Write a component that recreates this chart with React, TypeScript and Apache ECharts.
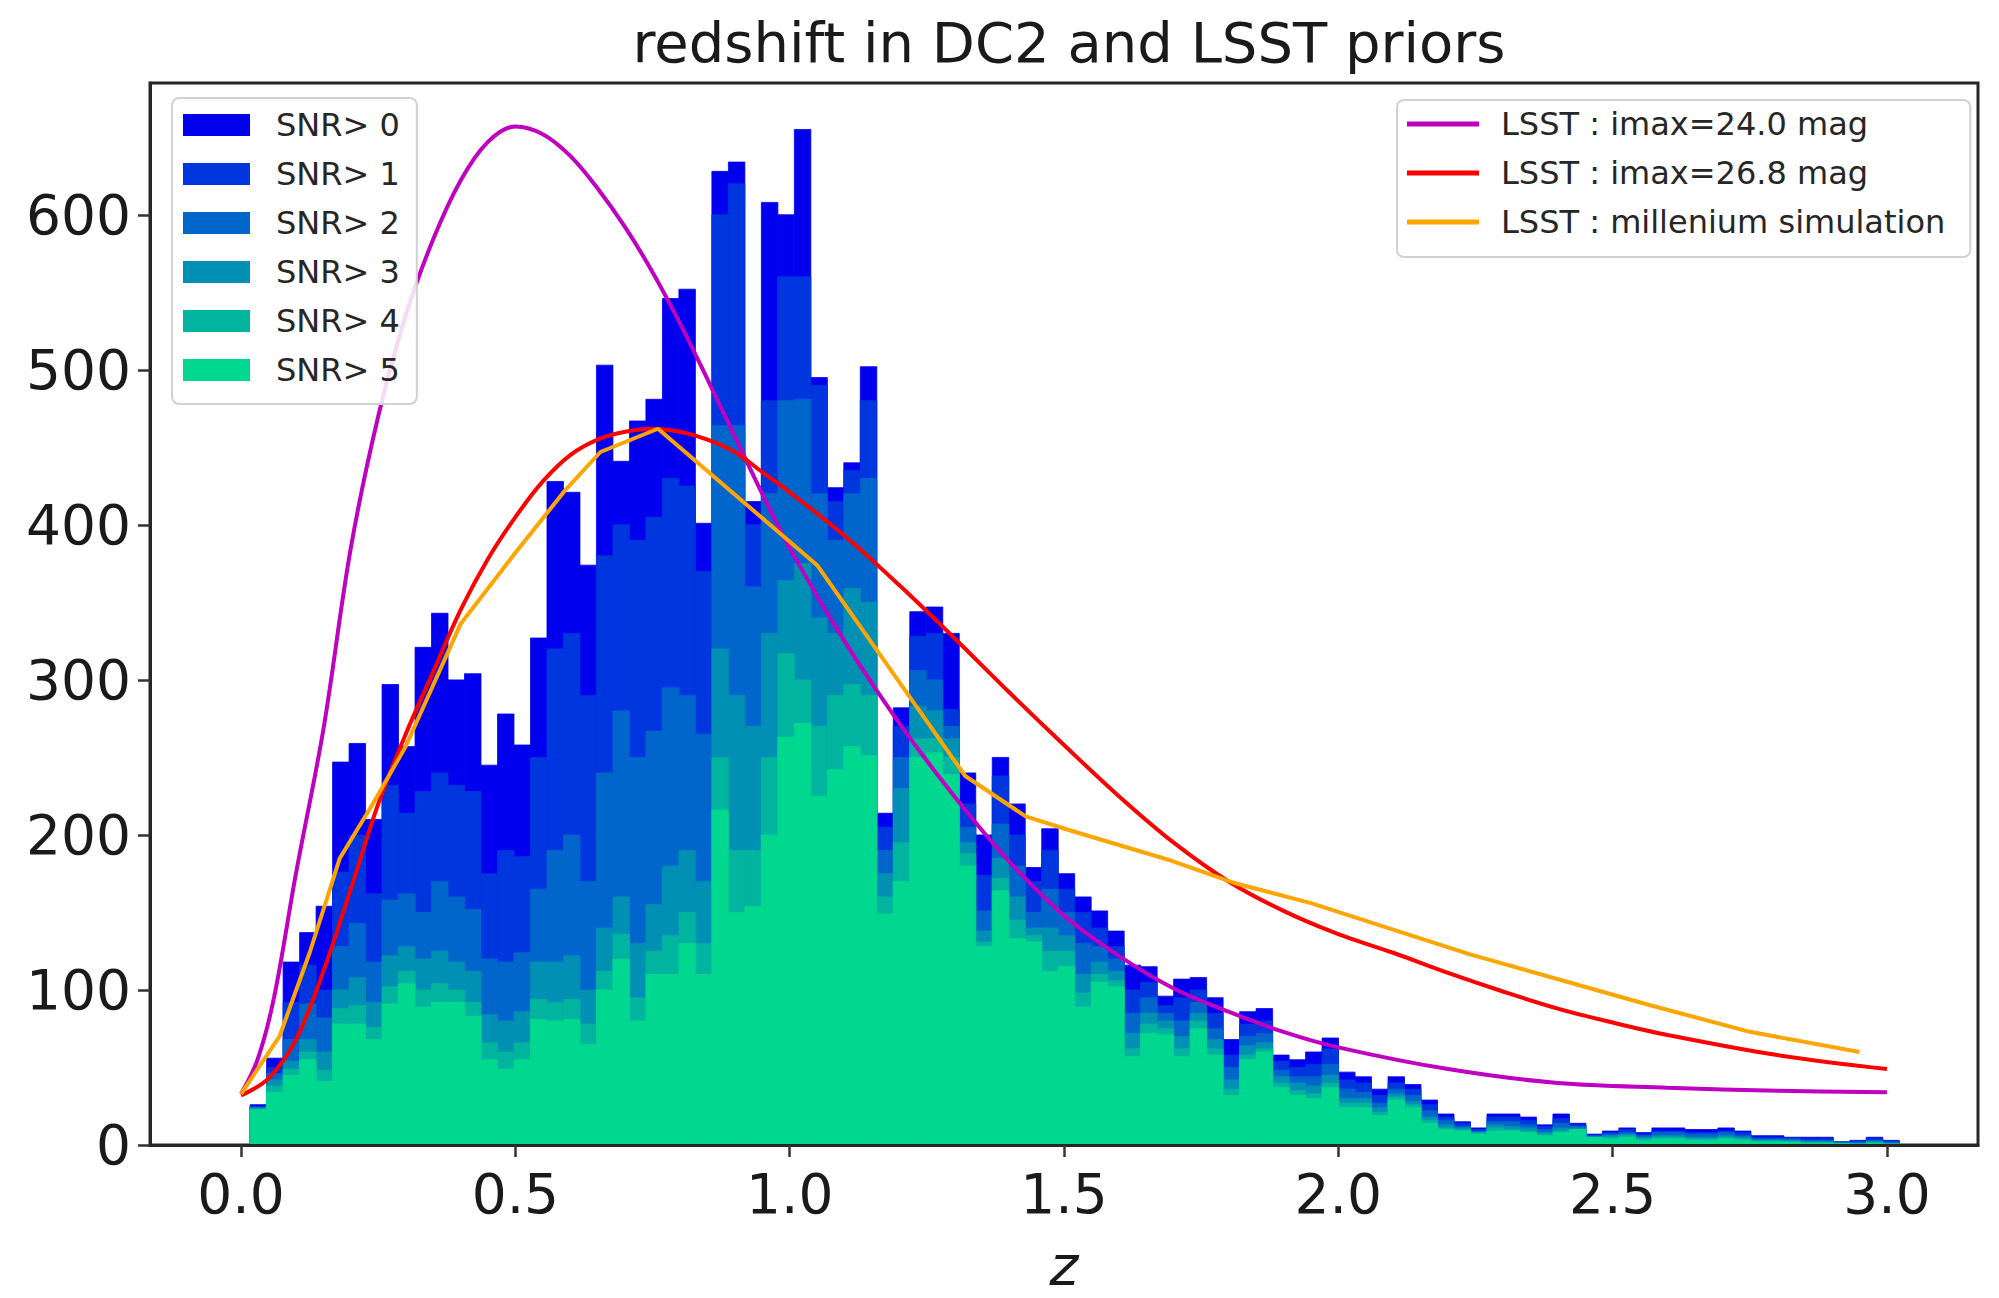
import React, { useEffect, useRef } from "react";
import * as echarts from "echarts";

const FONT = '"DejaVu Sans", "Liberation Sans", sans-serif';
const INK = "#1a1a1a";

const TITLE = "redshift in DC2 and LSST priors";
const X_NAME = "z";

// histogram binning in redshift
const BIN_START = 0.0165;
const BIN_WIDTH = 0.03006;

const SNR_NAMES = ["SNR> 0", "SNR> 1", "SNR> 2", "SNR> 3", "SNR> 4", "SNR> 5"];
const SNR_COLORS = ["#0000ee", "#0036de", "#0066cc", "#0090b4", "#00b4a0", "#00d890"];

// counts per bin, one array per signal-to-noise cut
const SNR0 = [
  26, 56, 118, 137, 154, 247, 259, 210, 297, 257,
  321, 343, 300, 304, 245, 278, 258, 327, 428, 421,
  374, 503, 441, 467, 481, 546, 552, 401, 628, 634,
  415, 608, 600, 655, 495, 424, 440, 502, 214, 282,
  344, 347, 330, 240, 200, 250, 220, 179, 204, 175,
  160, 151, 138, 116, 115, 96, 107, 108, 95, 68,
  86, 88, 58, 55, 60, 69, 47, 44, 36, 44,
  39, 29, 20, 15, 11, 20, 20, 18, 13, 20,
  14, 7, 9, 11, 8, 11, 11, 10, 10, 11,
  9, 6, 6, 5, 5, 5, 2, 3, 5, 3,
];
const SNR1 = [
  25, 50, 92, 116, 100, 176, 200, 162, 232, 214,
  228, 240, 232, 228, 175, 190, 186, 250, 320, 330,
  290, 380, 400, 390, 405, 430, 425, 370, 600, 620,
  400, 480, 560, 560, 490, 415, 435, 480, 205, 270,
  328, 330, 281, 220, 174, 238, 200, 170, 190, 165,
  150, 140, 128, 100, 105, 90, 95, 100, 85, 58,
  78, 80, 54, 50, 52, 62, 42, 40, 32, 40,
  36, 26, 18, 14, 10, 18, 18, 16, 12, 17,
  13, 6, 8, 10, 7, 9, 9, 8, 8, 9,
  8, 5, 5, 4, 4, 4, 2, 2, 4, 2,
];
const SNR2 = [
  24, 46, 68, 91, 82, 128, 143, 118, 158, 162,
  150, 170, 160, 152, 120, 118, 124, 165, 190, 200,
  170, 240, 280, 250, 267, 295, 290, 265, 464, 464,
  360, 420, 480, 481, 420, 390, 420, 430, 190, 250,
  306, 300, 270, 205, 151, 207, 180, 150, 165, 150,
  130, 128, 120, 85, 95, 85, 80, 92, 75, 50,
  70, 72, 48, 44, 44, 52, 36, 34, 27, 36,
  32, 22, 16, 12, 9, 15, 15, 13, 10, 14,
  12, 6, 7, 8, 6, 8, 8, 7, 7, 8,
  6, 4, 4, 4, 3, 3, 2, 2, 3, 2,
];
const SNR3 = [
  24, 42, 54, 68, 60, 100, 108, 92, 122, 128,
  120, 125, 118, 112, 84, 80, 86, 118, 118, 122,
  100, 140, 160, 130, 155, 180, 190, 170, 320, 290,
  270, 330, 364, 375, 340, 330, 359, 350, 175, 230,
  283, 280, 262, 195, 138, 185, 160, 140, 140, 135,
  110, 118, 112, 72, 85, 80, 70, 85, 68, 42,
  64, 66, 44, 40, 38, 45, 30, 30, 24, 33,
  28, 18, 13, 11, 8, 13, 12, 11, 8, 11,
  11, 5, 6, 7, 5, 6, 6, 5, 5, 6,
  5, 3, 3, 3, 2, 2, 1, 1, 2, 1,
];
const SNR4 = [
  23, 38, 49, 60, 48, 88, 90, 76, 102, 112,
  100, 104, 100, 92, 66, 60, 66, 94, 92, 94,
  78, 112, 136, 95, 125, 135, 150, 130, 250, 190,
  190, 250, 317, 300, 270, 290, 297, 290, 160, 195,
  262, 262, 250, 188, 131, 172, 145, 135, 125, 125,
  98, 110, 106, 62, 78, 75, 62, 80, 62, 36,
  58, 62, 40, 35, 33, 40, 27, 27, 21, 31,
  26, 16, 11, 10, 8, 11, 10, 9, 7, 9,
  10, 5, 5, 6, 4, 5, 5, 4, 4, 5,
  4, 3, 3, 2, 2, 2, 1, 1, 2, 1,
];
const SNR5 = [
  23, 34, 45, 55, 41, 78, 78, 68, 91, 104,
  89, 92, 92, 83, 55, 49, 55, 81, 80, 81,
  65, 100, 120, 80, 110, 110, 130, 110, 216, 150,
  154, 200, 263, 272, 225, 242, 257, 251, 149, 170,
  250, 253, 239, 180, 128, 164, 133, 131, 112, 115,
  89, 105, 102, 57, 72, 71, 57, 75, 58, 32,
  55, 60, 37, 32, 30, 37, 24, 24, 19, 29,
  24, 14, 10, 9, 7, 9, 9, 8, 6, 8,
  10, 5, 4, 5, 3, 4, 4, 3, 3, 4,
  3, 2, 2, 2, 1, 1, 1, 0, 1, 0,
];
const SNR_COUNTS = [SNR0, SNR1, SNR2, SNR3, SNR4, SNR5];

// prior curves
const LINE_NAMES = ["LSST : imax=24.0 mag", "LSST : imax=26.8 mag", "LSST : millenium simulation"];
const LINE_COLORS = ["#c000c0", "#ff0000", "#ffa500"];

const PRIOR24_Z = [0, 0.03, 0.06, 0.1, 0.15, 0.2, 0.25, 0.3, 0.35, 0.4, 0.45, 0.5, 0.55, 0.6, 0.65, 0.7, 0.75, 0.8, 0.85, 0.9, 0.95, 1.0, 1.1, 1.2, 1.3, 1.4, 1.5, 1.6, 1.7, 1.8, 1.9, 2.0, 2.2, 2.4, 2.6, 2.8, 3.0];
const PRIOR24_N = [33, 55, 95, 175, 268, 385, 470, 535, 584, 622, 647, 657, 652, 638, 617, 592, 563, 530, 494, 457, 420, 385, 325, 272, 225, 183, 148, 122, 101, 86, 73, 63, 49, 40, 37, 35, 34];

const PRIOR268_Z = [0, 0.05, 0.1, 0.15, 0.2, 0.25, 0.3, 0.35, 0.4, 0.45, 0.5, 0.55, 0.6, 0.65, 0.7, 0.75, 0.8, 0.85, 0.9, 0.95, 1.0, 1.1, 1.2, 1.3, 1.4, 1.5, 1.6, 1.7, 1.8, 1.9, 2.0, 2.1, 2.2, 2.3, 2.4, 2.5, 2.6, 2.8, 3.0];
const PRIOR268_N = [32, 43, 68, 112, 165, 220, 265, 305, 345, 378, 405, 428, 445, 455, 460, 462, 460, 455, 447, 434, 421, 393, 361, 327, 292, 258, 225, 195, 170, 151, 136, 124, 111, 99, 88, 79, 71, 58, 49];

const MILL_Z = [0, 0.07, 0.125, 0.18, 0.24, 0.3, 0.4, 0.5, 0.59, 0.655, 0.76, 1.05, 1.32, 1.43, 1.51, 1.69, 1.81, 1.95, 2.24, 2.57, 2.75, 2.95];
const MILL_N = [33, 70, 124, 185, 220, 257, 336, 382, 422, 447, 462, 374, 238, 212, 203, 184, 169, 156, 123, 90, 73, 60];

const X_TICKS = [0, 0.5, 1.0, 1.5, 2.0, 2.5, 3.0];
const Y_TICKS = [0, 100, 200, 300, 400, 500, 600];

function renderBin(params: any, api: any) {
  const x0 = api.value(0);
  const x1 = api.value(1);
  const h = api.value(2);
  const top = api.coord([x0, h]);
  const base = api.coord([x1, 0]);
  const color = api.visual("color");
  return {
    type: "rect",
    shape: { x: top[0], y: top[1], width: base[0] - top[0], height: base[1] - top[1] },
    style: { fill: color, stroke: color, lineWidth: 0.8 },
  };
}

function buildOption() {
  const histSeries = SNR_COUNTS.map((counts, k) => ({
    type: "custom",
    name: SNR_NAMES[k],
    renderItem: renderBin,
    clip: true,
    itemStyle: { color: SNR_COLORS[k] },
    encode: { x: [0, 1], y: 2 },
    data: counts.map((c, i) => [BIN_START + i * BIN_WIDTH, BIN_START + (i + 1) * BIN_WIDTH, c]),
    z: 2,
  }));

  const curves = [
    [PRIOR24_Z, PRIOR24_N, 0.35],
    [PRIOR268_Z, PRIOR268_N, 0.35],
    [MILL_Z, MILL_N, 0],
  ] as const;

  const lineSeries = curves.map(([zs, ns, smooth], k) => ({
    type: "line",
    name: LINE_NAMES[k],
    data: (zs as readonly number[]).map((z, i) => [z, (ns as readonly number[])[i]]),
    smooth: smooth as number,
    symbol: "none",
    showSymbol: false,
    lineStyle: { color: LINE_COLORS[k], width: 4 },
    itemStyle: { color: LINE_COLORS[k] },
    z: 5,
  }));

  const legendBox = {
    orient: "vertical",
    selectedMode: false,
    backgroundColor: "rgba(255,255,255,0.85)",
    borderColor: "#d2d2d2",
    borderWidth: 2,
    borderRadius: 7,
    icon: "rect",
    z: 20,
  };

  return {
    animation: false,
    backgroundColor: "#ffffff",
    grid: {
      left: 150,
      top: 83,
      width: 1828,
      height: 1067,
      show: true,
      borderColor: "#262626",
      borderWidth: 3,
      backgroundColor: "transparent",
    },
    graphic: [
      {
        type: "text",
        x: 1069,
        y: 42,
        style: {
          text: TITLE,
          fontSize: 56,
          fontFamily: FONT,
          fill: INK,
          align: "center",
          verticalAlign: "middle",
        },
      },
    ],
    legend: [
      {
        ...legendBox,
        data: SNR_NAMES,
        left: 172,
        top: 98,
        itemWidth: 67,
        itemHeight: 22,
        itemGap: 11,
        padding: [8, 17, 15, 11],
        textStyle: { fontFamily: FONT, fontSize: 32, color: "#262626", lineHeight: 38, padding: [0, 0, 0, 21] },
      },
      {
        ...legendBox,
        data: LINE_NAMES,
        left: 1397,
        top: 100,
        itemWidth: 72,
        itemHeight: 5,
        itemGap: 11,
        padding: [5, 25, 16, 10],
        textStyle: { fontFamily: FONT, fontSize: 32, color: "#262626", lineHeight: 38, padding: [0, 0, 0, 17] },
      },
    ],
    xAxis: {
      type: "value",
      min: -0.166,
      max: 3.166,
      z: 10,
      name: X_NAME,
      nameLocation: "middle",
      nameGap: 93,
      nameTextStyle: { fontFamily: FONT, fontSize: 55, fontStyle: "italic", color: INK },
      axisLine: { show: true, onZero: false, lineStyle: { color: "#262626", width: 3 } },
      axisTick: { show: true, length: 12, customValues: X_TICKS, lineStyle: { color: "#333", width: 2.5 } },
      axisLabel: {
        customValues: X_TICKS,
        formatter: (v: number) => v.toFixed(1),
        fontFamily: FONT,
        fontSize: 55,
        color: INK,
        margin: 21,
      },
      splitLine: { show: false },
    },
    yAxis: {
      type: "value",
      min: 0,
      max: 685,
      z: 10,
      axisLine: { show: true, onZero: false, lineStyle: { color: "#262626", width: 3 } },
      axisTick: { show: true, length: 12, customValues: Y_TICKS, lineStyle: { color: "#333", width: 2.5 } },
      axisLabel: {
        customValues: Y_TICKS,
        fontFamily: FONT,
        fontSize: 55,
        color: INK,
        margin: 19,
      },
      splitLine: { show: false },
    },
    series: [...histSeries, ...lineSeries],
  };
}

export default function App() {
  const ref = useRef<HTMLDivElement>(null);

  useEffect(() => {
    if (!ref.current) return;
    const chart = echarts.init(ref.current, null, { renderer: "svg" });
    chart.setOption(buildOption() as any);
    return () => chart.dispose();
  }, []);

  return (
    <div
      ref={ref}
      style={{ position: "absolute", left: 0, top: 0, width: 1999, height: 1298, background: "#ffffff" }}
    />
  );
}
